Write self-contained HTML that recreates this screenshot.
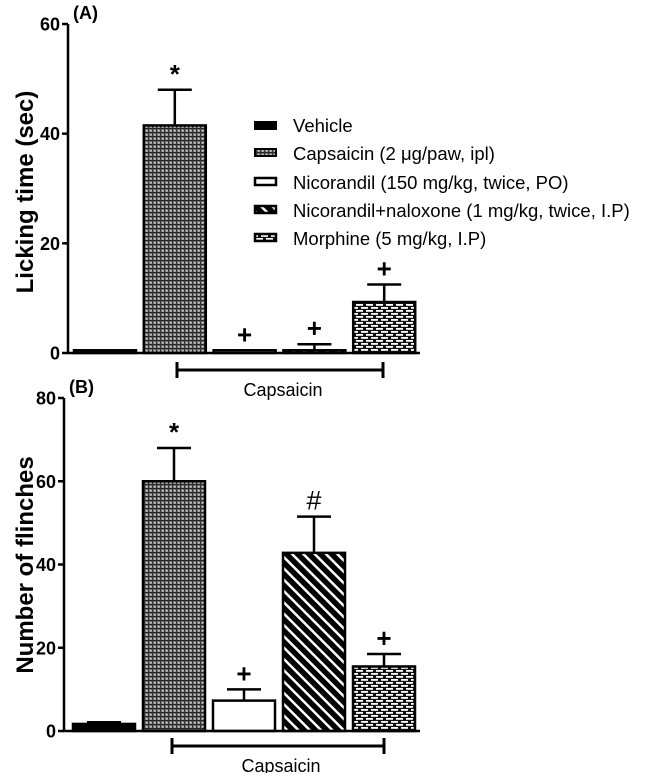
<!DOCTYPE html>
<html><head><meta charset="utf-8"><style>
body{margin:0;background:#fff;}
svg text{font-family:"Liberation Sans",Arial,sans-serif;}
</style></head><body>
<svg id="chart" width="647" height="773" viewBox="0 0 647 773" xmlns="http://www.w3.org/2000/svg">
<defs>
<pattern id="pCap" width="4" height="4" patternUnits="userSpaceOnUse"><rect width="4" height="4" fill="#888"/><rect x="0" y="0" width="4" height="1.2" fill="#222"/><rect x="0" y="0" width="1.2" height="4" fill="#333"/><rect x="2.2" y="2.2" width="1.2" height="1.2" fill="#eee"/></pattern>
<pattern id="pStripe" width="8" height="8" patternUnits="userSpaceOnUse" patternTransform="rotate(-45)"><rect width="8" height="8" fill="#fff"/><rect x="0" y="0" width="5.5" height="8" fill="#000"/></pattern>
<pattern id="pBrick" width="10" height="6" patternUnits="userSpaceOnUse"><rect width="10" height="6" fill="#111"/><rect x="1" y="1" width="7" height="1.8" fill="#fff"/><rect x="-4" y="4" width="7" height="1.8" fill="#fff"/><rect x="6" y="4" width="7" height="1.8" fill="#fff"/></pattern>
</defs>
<g id="plots"></g>
<g font-size="18.5">
<rect x="254" y="121" width="23" height="9" fill="#000"/>
<text x="293" y="132">Vehicle</text>
<rect x="255" y="149" width="21" height="7" fill="url(#pCap)" stroke="#000" stroke-width="2"/>
<text x="293" y="160">Capsaicin (2 μg/paw, ipl)</text>
<rect x="255" y="178" width="21" height="7" fill="#fff" stroke="#000" stroke-width="2.5"/>
<text x="293" y="189">Nicorandil (150 mg/kg, twice, PO)</text>
<rect x="255" y="206" width="21" height="7" fill="url(#pStripe)" stroke="#000" stroke-width="2.5"/>
<text x="293" y="217">Nicorandil+naloxone (1 mg/kg, twice, I.P)</text>
<rect x="255" y="234" width="21" height="7" fill="url(#pBrick)" stroke="#000" stroke-width="2.5"/>
<text x="293" y="245">Morphine (5 mg/kg, I.P)</text>
</g>
</svg>
<script>
const groups = ["Vehicle","Capsaicin","Nicorandil","Nicorandil+naloxone","Morphine"];
const fills = ["#000","url(#pCap)","#fff","url(#pStripe)","url(#pBrick)"];
const valuesA = [0.5, 41.5, 0.5, 0.5, 9.3];
const errorsA = [0, 6.5, 0, 1.1, 3.2];
const marksA = ["", "*", "+", "+", "+"];
const ticksA = [0, 20, 40, 60];
const valuesB = [1.7, 60, 7.3, 42.8, 15.5];
const errorsB = [0.4, 8, 2.7, 8.7, 3];
const marksB = ["", "*", "+", "#", "+"];
const ticksB = [0, 20, 40, 60, 80];

const NS="http://www.w3.org/2000/svg";
const root=document.getElementById('plots');
function mk(tag,attrs,parent){const e=document.createElementNS(NS,tag);for(const k in attrs)e.setAttribute(k,attrs[k]);(parent||root).appendChild(e);return e;}

function panel(cfg){
  const g=mk('g',{});
  
  
  const y=v=>cfg.y0-(v/cfg.max)*(cfg.y0-cfg.yTop);
  const barX=i=>cfg.x0+i*cfg.step;
  cfg.values.forEach((v,i)=>{
    const x=barX(i), top=y(v), err=cfg.errors[i];
    if(err>0){
      const l=mk('line',{x1:x+cfg.bw/2,x2:x+cfg.bw/2,y1:top,y2:y(v+err),stroke:'#000','stroke-width':2.5},g);
      
      
      const c=mk('line',{x1:x+cfg.bw/2-17,x2:x+cfg.bw/2+17,y1:y(v+err),y2:y(v+err),stroke:'#000','stroke-width':2.5},g);
      
      
    }
    const r=mk('rect',{x:x,y:top,width:cfg.bw,height:Math.max(cfg.y0-top,1),fill:fills[i],stroke:'#000','stroke-width':2.5},g);
    
    
    if(cfg.marks[i]){
      const t=mk('text',{x:x+cfg.bw/2,y:y(v+err)-7,'text-anchor':'middle','font-size':cfg.marks[i]==='#'?27:26,'font-weight':cfg.marks[i]==='#'?'normal':'bold'},g);
      t.textContent=cfg.marks[i];
      
      
    }
  });
  const ax=mk('path',{d:`M${cfg.ax},${cfg.yTop} V${cfg.y0} H${cfg.axEnd}`,stroke:'#000','stroke-width':2.5,fill:'none'},g);
  
  
  cfg.ticks.forEach(t=>{
    mk('line',{x1:cfg.ax-6,x2:cfg.ax,y1:y(t),y2:y(t),stroke:'#000','stroke-width':2.5},g);
    const tl=mk('text',{x:cfg.ax-8,y:y(t)+6.5,'text-anchor':'end','font-size':18,'font-weight':'bold'},g);
    tl.textContent=t;
    
    
  });
  const yt=mk('text',{transform:`translate(${cfg.titleX},${cfg.titleY}) rotate(-90)`,'text-anchor':'middle','font-size':24,'font-weight':'bold'},g);
  yt.textContent=cfg.title;
  
  
  const pl=mk('text',{x:cfg.ax+5,y:cfg.yTop-5,'font-size':18,'font-weight':'bold'},g);
  pl.textContent=cfg.label;
  
  
  const b=mk('path',{d:`M${cfg.bx1},${cfg.by-8} V${cfg.by+8} M${cfg.bx1},${cfg.by} H${cfg.bx2} M${cfg.bx2},${cfg.by-8} V${cfg.by+8}`,stroke:'#000','stroke-width':3,fill:'none'},g);
  
  
  const bt=mk('text',{x:(cfg.bx1+cfg.bx2)/2+3,y:cfg.by+26,'text-anchor':'middle','font-size':18},g);
  bt.textContent='Capsaicin';
  
  
}
panel({name:'panel-a',values:valuesA,errors:errorsA,marks:marksA,ticks:ticksA,max:60,y0:353,yTop:24,x0:74,step:69.8,bw:62,ax:68,axEnd:420,title:'Licking time (sec)',titleX:33,titleY:192,label:'(A)',bx1:177,bx2:383,by:370});
panel({name:'panel-b',values:valuesB,errors:errorsB,marks:marksB,ticks:ticksB,max:80,y0:731,yTop:398,x0:73,step:70,bw:62,ax:64,axEnd:420,title:'Number of flinches',titleX:33,titleY:565,label:'(B)',bx1:172,bx2:384,by:746});
</script>
</body></html>
